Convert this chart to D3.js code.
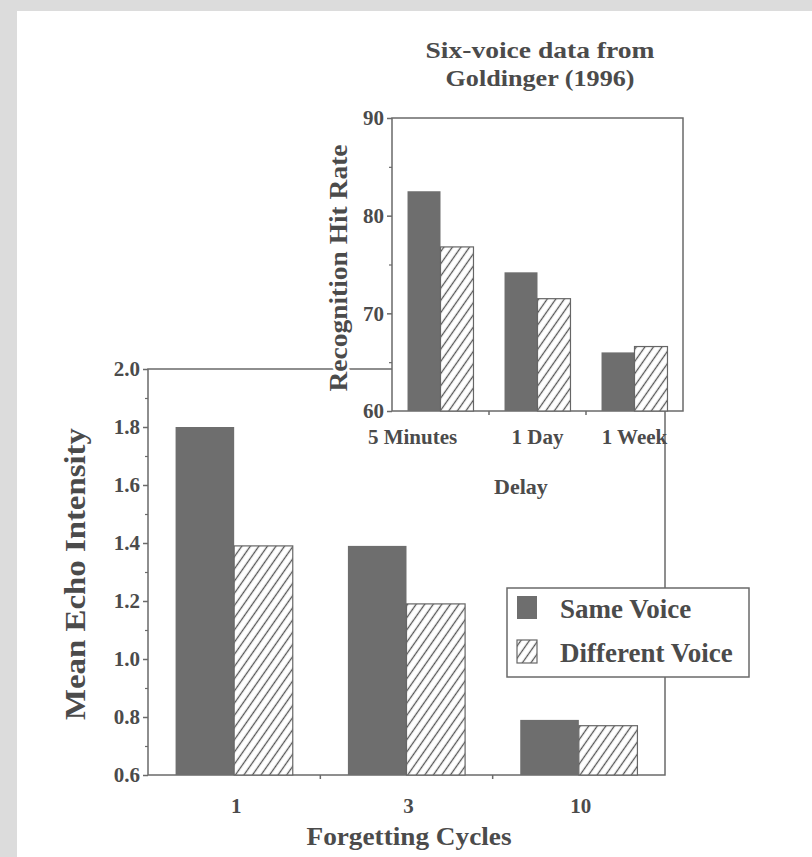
<!DOCTYPE html>
<html>
<head>
<meta charset="utf-8">
<script src="https://cdn.jsdelivr.net/npm/d3@7"></script>
<style>
  html, body { margin: 0; padding: 0; background: #dcdcdc; }
  svg { display: block; }
</style>
</head>
<body>
<div id="chart"></div>
<script>
// main chart data (Forgetting Cycles)
const cycles = ["1", "3", "10"];
const sameVoice = [1.8, 1.39, 0.79];
const differentVoice = [1.39, 1.19, 0.77];
const mainTicks = [0.6, 0.8, 1.0, 1.2, 1.4, 1.6, 1.8, 2.0];
const mainMinorTicks = [0.7, 0.9, 1.1, 1.3, 1.5, 1.7, 1.9];

// inset data (Goldinger 1996)
const delays = ["5 Minutes", "1 Day", "1 Week"];
const insetSame = [82.5, 74.2, 66.0];
const insetDifferent = [76.8, 71.5, 66.6];
const insetTicks = [60, 70, 80, 90];
const insetMinorTicks = [65, 75, 85];

const seriesKeys = ["same", "different"];
const legendLabels = ["Same Voice", "Different Voice"];

const width = 812;
const height = 857;
const font = "'Liberation Serif', 'Times New Roman', serif";
const inkColor = "#4b4b4b";
const lineColor = "#6a6a6a";
const barColor = "#6e6e6e";

const svg = d3
  .select("#chart")
  .append("svg")
  .attr("width", width)
  .attr("height", height)
  .style("font-family", font)
  .style("font-weight", "bold");

// scanned page: grey margin on top and left, white paper
svg.append("rect").attr("width", width).attr("height", height).attr("fill", "#dcdcdc");
svg.append("rect").attr("x", 17).attr("y", 11).attr("width", width - 17).attr("height", height - 11).attr("fill", "#fff");

// hatch pattern for "Different Voice"
const defs = svg.append("defs");
const hatch = defs
  .append("pattern")
  .attr("id", "hatch")
  .attr("patternUnits", "userSpaceOnUse")
  .attr("width", 7)
  .attr("height", 7)
  .attr("patternTransform", "rotate(35)");
hatch.append("rect").attr("width", 7).attr("height", 7).attr("fill", "#fff");
hatch
  .append("line")
  .attr("x1", 3.5).attr("y1", 0).attr("x2", 3.5).attr("y2", 7)
  .attr("stroke", "#555")
  .attr("stroke-width", 1.3);

const fillFor = (key) => (key === "same" ? barColor : "url(#hatch)");

/**
 * Draws a grouped bar chart with box frame, ticks and labels
 */
function drawPanel(g, cfg) {
  const xScale = d3
    .scaleBand()
    .domain(cfg.categories)
    .range([cfg.left, cfg.right])
    .paddingInner(0.32)
    .paddingOuter(0.16);

  const subScale = d3
    .scaleBand()
    .domain(seriesKeys)
    .range([0, xScale.bandwidth()]);

  const yScale = d3
    .scaleLinear()
    .domain(cfg.domain)
    .range([cfg.bottom, cfg.top]);

  // background + frame
  g.append("rect")
    .attr("x", cfg.left)
    .attr("y", cfg.top)
    .attr("width", cfg.right - cfg.left)
    .attr("height", cfg.bottom - cfg.top)
    .attr("fill", "#fff")
    .attr("stroke", lineColor)
    .attr("stroke-width", 1.5);

  const rows = cfg.categories.map((c, i) => ({
    cat: c,
    values: [
      { key: "same", value: cfg.same[i] },
      { key: "different", value: cfg.different[i] },
    ],
  }));

  const groups = g
    .selectAll(".group")
    .data(rows)
    .enter()
    .append("g")
    .attr("transform", (d) => `translate(${xScale(d.cat)}, 0)`);

  groups
    .selectAll("rect")
    .data((d) => d.values)
    .enter()
    .append("rect")
    .attr("x", (d) => subScale(d.key))
    .attr("y", (d) => yScale(d.value))
    .attr("width", subScale.bandwidth())
    .attr("height", (d) => yScale(cfg.domain[0]) - yScale(d.value))
    .attr("fill", (d) => fillFor(d.key))
    .attr("stroke", (d) => (d.key === "same" ? "none" : "#666"))
    .attr("stroke-width", 1.2);

  // y axis, major + minor ticks
  const yAxis = d3
    .axisLeft(yScale)
    .tickValues(cfg.ticks)
    .tickFormat(cfg.format)
    .tickSize(5)
    .tickPadding(3);
  const yAxisGroup = g
    .append("g")
    .attr("transform", `translate(${cfg.left}, 0)`)
    .call(yAxis);
  yAxisGroup.select(".domain").remove();
  yAxisGroup
    .selectAll(".tick text")
    .style("font-size", "21px")
    .style("font-family", font)
    .attr("fill", inkColor);
  yAxisGroup.selectAll(".tick line").attr("stroke", lineColor).attr("stroke-width", 1.5);

  const minorAxis = g
    .append("g")
    .attr("transform", `translate(${cfg.left}, 0)`)
    .call(d3.axisLeft(yScale).tickValues(cfg.minorTicks).tickSize(3).tickFormat(""));
  minorAxis.select(".domain").remove();
  minorAxis.selectAll(".tick line").attr("stroke", lineColor).attr("stroke-width", 1.2);

  // small ticks between groups on the x axis
  const step = xScale.step();
  const gap = (step - xScale.bandwidth()) / 2;
  g.selectAll(".sep")
    .data(cfg.categories.slice(0, -1))
    .enter()
    .append("line")
    .attr("x1", (d) => xScale(d) + xScale.bandwidth() + gap)
    .attr("x2", (d) => xScale(d) + xScale.bandwidth() + gap)
    .attr("y1", cfg.bottom)
    .attr("y2", cfg.bottom + 4)
    .attr("stroke", lineColor)
    .attr("stroke-width", 1.5);

  // category labels
  g.selectAll(".cat")
    .data(cfg.categories)
    .enter()
    .append("text")
    .attr("x", (d) => xScale(d) + xScale.bandwidth() / 2)
    .attr("dx", cfg.labelShift)
    .attr("y", cfg.bottom + cfg.labelGap)
    .attr("text-anchor", "middle")
    .style("font-size", "21px")
    .attr("fill", inkColor)
    .text((d) => d);

  return { xScale, yScale };
}

// ---- main chart ----
const main = svg.append("g");
drawPanel(main, {
  categories: cycles,
  same: sameVoice,
  different: differentVoice,
  domain: [0.6, 2.0],
  ticks: mainTicks,
  minorTicks: mainMinorTicks,
  format: d3.format(".1f"),
  left: 148,
  right: 665,
  top: 369,
  bottom: 775,
  labelGap: 38,
  labelShift: (d, i) => 2,
});

main
  .append("text")
  .attr("x", 409)
  .attr("y", 845)
  .attr("text-anchor", "middle")
  .style("font-size", "26px")
  .attr("textLength", 205)
  .attr("lengthAdjust", "spacingAndGlyphs")
  .attr("fill", inkColor)
  .text("Forgetting Cycles");

main
  .append("text")
  .attr("transform", "translate(85, 574) rotate(-90)")
  .attr("text-anchor", "middle")
  .style("font-size", "30px")
  .attr("textLength", 292)
  .attr("lengthAdjust", "spacingAndGlyphs")
  .attr("fill", inkColor)
  .text("Mean Echo Intensity");

// ---- inset chart ----
const inset = svg.append("g");
drawPanel(inset, {
  categories: delays,
  same: insetSame,
  different: insetDifferent,
  domain: [60, 90],
  ticks: insetTicks,
  minorTicks: insetMinorTicks,
  format: d3.format("d"),
  left: 392,
  right: 683,
  top: 118,
  bottom: 411,
  labelGap: 33,
  labelShift: (d, i) => (i === 0 ? -28 : 0),
});

inset
  .append("text")
  .attr("x", 521)
  .attr("y", 494)
  .attr("text-anchor", "middle")
  .style("font-size", "22px")
  .attr("fill", inkColor)
  .text("Delay");

// y label sits over the main frame line, white halo breaks it
inset
  .append("text")
  .attr("transform", "translate(347, 268) rotate(-90)")
  .attr("text-anchor", "middle")
  .style("font-size", "25px")
  .attr("textLength", 247)
  .attr("lengthAdjust", "spacingAndGlyphs")
  .style("paint-order", "stroke")
  .attr("stroke", "#fff")
  .attr("stroke-width", 5)
  .attr("fill", inkColor)
  .text("Recognition Hit Rate");

const titleLines = ["Six-voice data from", "Goldinger (1996)"];
const titleWidths = [229, 189];
inset
  .selectAll(".title")
  .data(titleLines)
  .enter()
  .append("text")
  .attr("x", 540)
  .attr("y", (d, i) => 58 + i * 28)
  .attr("text-anchor", "middle")
  .style("font-size", "24px")
  .attr("textLength", (d, i) => titleWidths[i])
  .attr("lengthAdjust", "spacingAndGlyphs")
  .attr("fill", inkColor)
  .text((d) => d);

// ---- legend ----
const legend = svg.append("g").attr("transform", "translate(507, 588)");
legend
  .append("rect")
  .attr("width", 242)
  .attr("height", 89)
  .attr("fill", "#fff")
  .attr("stroke", lineColor)
  .attr("stroke-width", 1.5);

const items = legend
  .selectAll(".item")
  .data(seriesKeys)
  .enter()
  .append("g")
  .attr("transform", (d, i) => `translate(10, ${8 + i * 44})`);

items
  .append("rect")
  .attr("width", 20)
  .attr("height", 23)
  .attr("fill", (d) => fillFor(d))
  .attr("stroke", (d) => (d === "same" ? "none" : "#666"))
  .attr("stroke-width", 1.2);

items
  .append("text")
  .attr("x", 43)
  .attr("y", 22)
  .style("font-size", "27px")
  .attr("fill", inkColor)
  .text((d, i) => legendLabels[i]);
</script>
</body>
</html>
